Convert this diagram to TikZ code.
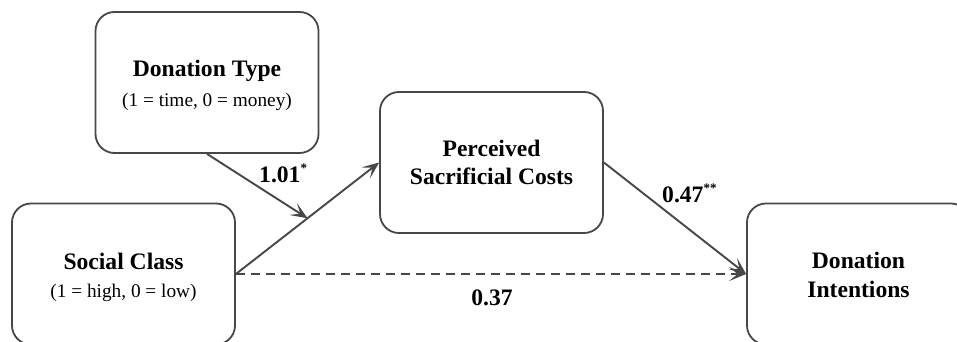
\documentclass[tikz,border=0pt]{standalone}
\usepackage{fontspec}
\setmainfont{Liberation Serif}
\usetikzlibrary{arrows.meta,calc}
\definecolor{ln}{HTML}{474747}
\newcommand{\sig}[1]{\raisebox{0.42em}{\fontsize{13}{14}\selectfont #1}}
\begin{document}
\begin{tikzpicture}[x=1pt,y=-1pt,
  box/.style={draw=ln,line width=1.8pt,rounded corners=19pt,minimum width=223pt,minimum height=141pt,align=center,inner sep=0pt},
  ttl/.style={font=\fontsize{23.6}{28.5}\selectfont\bfseries},
  sub/.style={font=\fontsize{19.3}{22}\selectfont},
  arr/.style={draw=ln,line width=1.9pt,-{Stealth[length=17pt,width=14pt,inset=8.5pt]}},
  lbl/.style={font=\fontsize{23.6}{28}\selectfont\bfseries,inner sep=0pt}
]
\useasboundingbox (0,0) rectangle (957,342);
\clip (0,0) rectangle (957,342);
\node[box] (dt) at (207,82.5) {};
\node[ttl] (dtt) at (207,71) {Donation Type};
\node[sub] (dts) at (207,102) {(1 = time, 0 = money)};
\node[box] (sc) at (123.5,274) {};
\node[ttl] (sct) at (123.5,261) {Social Class};
\node[sub] (scs) at (123.5,293) {(1 = high, 0 = low)};
\node[box] (psc) at (491.5,162.5) {};
\node[ttl,align=center] (psct) at (491.5,162.5) {Perceived\\Sacrificial Costs};
\node[box] (di) at (858.5,274) {};
\node[ttl,align=center] (dit) at (858.5,275) {Donation\\Intentions};
\coordinate (m) at ($(sc.east)!0.5!(psc.west)$);
\draw[arr] (sc.east) -- (psc.west);
\draw[arr] (dt.south) -- (m);
\draw[arr] (psc.east) -- (di.west);
\draw[arr,dash pattern=on 9pt off 6pt] (sc.east) -- (di.west);
\node[lbl,anchor=base west] (l1) at (259,182) {1.01\sig{*}};
\node[lbl,anchor=base west] (l2) at (662,202) {0.47\sig{**}};
\node[lbl,anchor=base] (l3) at (492,305) {0.37};
\end{tikzpicture}
\end{document}
